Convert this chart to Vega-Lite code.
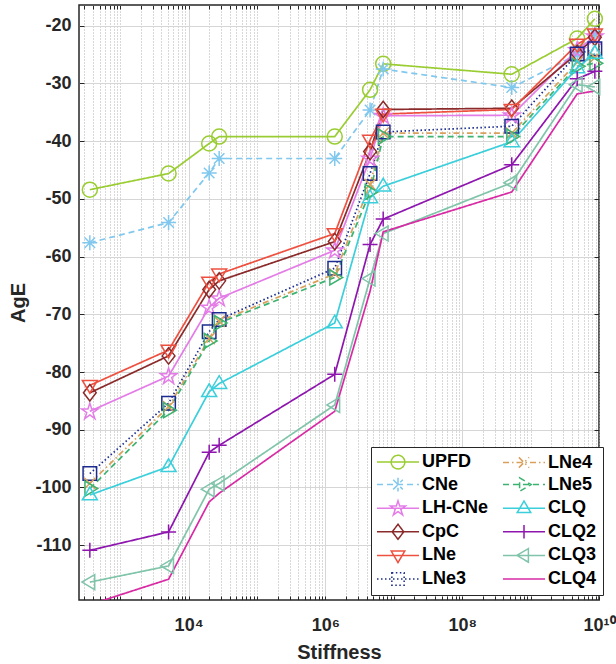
{
 "$schema": "https://vega.github.io/schema/vega-lite/v6.json",
 "width": 520,
 "height": 595,
 "padding": {"left": 8, "top": 4, "right": 0, "bottom": 0},
 "config": {"font": "Liberation Sans", "view": {"stroke": "#262626", "strokeWidth": 1.5}},
 "data": {"values": [
  {"s":"UPFD","x":360,"y":-48.4},{"s":"UPFD","x":5100,"y":-45.6},{"s":"UPFD","x":20000,"y":-40.4},{"s":"UPFD","x":28000,"y":-39.2},{"s":"UPFD","x":1370000,"y":-39.2},{"s":"UPFD","x":4500000,"y":-31.1},{"s":"UPFD","x":7000000,"y":-26.6},{"s":"UPFD","x":530000000,"y":-28.4},{"s":"UPFD","x":4800000000,"y":-22.2},{"s":"UPFD","x":8700000000,"y":-18.8},
  {"s":"CNe","x":360,"y":-57.6},{"s":"CNe","x":5100,"y":-54.1},{"s":"CNe","x":20000,"y":-45.5},{"s":"CNe","x":28000,"y":-43.0},{"s":"CNe","x":1370000,"y":-43.0},{"s":"CNe","x":4500000,"y":-34.6},{"s":"CNe","x":7000000,"y":-27.5},{"s":"CNe","x":530000000,"y":-30.7},{"s":"CNe","x":4800000000,"y":-25.0},{"s":"CNe","x":8700000000,"y":-21.5},
  {"s":"LH-CNe","x":360,"y":-86.8},{"s":"LH-CNe","x":5100,"y":-80.7},{"s":"LH-CNe","x":20000,"y":-68.8},{"s":"LH-CNe","x":28000,"y":-67.2},{"s":"LH-CNe","x":1370000,"y":-58.9},{"s":"LH-CNe","x":4500000,"y":-43.0},{"s":"LH-CNe","x":7000000,"y":-35.6},{"s":"LH-CNe","x":530000000,"y":-35.5},{"s":"LH-CNe","x":4800000000,"y":-24.2},{"s":"LH-CNe","x":8700000000,"y":-21.8},
  {"s":"CpC","x":360,"y":-83.6},{"s":"CpC","x":5100,"y":-77.2},{"s":"CpC","x":20000,"y":-65.7},{"s":"CpC","x":28000,"y":-64.2},{"s":"CpC","x":1370000,"y":-57.4},{"s":"CpC","x":4500000,"y":-41.8},{"s":"CpC","x":7000000,"y":-34.5},{"s":"CpC","x":530000000,"y":-34.3},{"s":"CpC","x":4800000000,"y":-24.8},{"s":"CpC","x":8700000000,"y":-22.0},
  {"s":"LNe","x":360,"y":-82.3},{"s":"LNe","x":5100,"y":-76.2},{"s":"LNe","x":20000,"y":-64.4},{"s":"LNe","x":28000,"y":-63.0},{"s":"LNe","x":1370000,"y":-56.0},{"s":"LNe","x":4500000,"y":-39.8},{"s":"LNe","x":7000000,"y":-35.3},{"s":"LNe","x":530000000,"y":-34.5},{"s":"LNe","x":4800000000,"y":-23.2},{"s":"LNe","x":8700000000,"y":-21.4},
  {"s":"LNe3","x":360,"y":-97.6},{"s":"LNe3","x":5100,"y":-85.4},{"s":"LNe3","x":20000,"y":-73.0},{"s":"LNe3","x":28000,"y":-70.9},{"s":"LNe3","x":1370000,"y":-62.0},{"s":"LNe3","x":4500000,"y":-45.6},{"s":"LNe3","x":7000000,"y":-38.4},{"s":"LNe3","x":530000000,"y":-37.4},{"s":"LNe3","x":4800000000,"y":-24.9},{"s":"LNe3","x":8700000000,"y":-24.0},
  {"s":"LNe4","x":360,"y":-99.3},{"s":"LNe4","x":5100,"y":-86.0},{"s":"LNe4","x":20000,"y":-74.2},{"s":"LNe4","x":28000,"y":-71.2},{"s":"LNe4","x":1370000,"y":-63.0},{"s":"LNe4","x":4500000,"y":-47.5},{"s":"LNe4","x":7000000,"y":-38.6},{"s":"LNe4","x":530000000,"y":-38.6},{"s":"LNe4","x":4800000000,"y":-26.3},{"s":"LNe4","x":8700000000,"y":-25.5},
  {"s":"LNe5","x":360,"y":-100.2},{"s":"LNe5","x":5100,"y":-86.6},{"s":"LNe5","x":20000,"y":-74.6},{"s":"LNe5","x":28000,"y":-71.5},{"s":"LNe5","x":1370000,"y":-63.6},{"s":"LNe5","x":4500000,"y":-48.8},{"s":"LNe5","x":7000000,"y":-39.2},{"s":"LNe5","x":530000000,"y":-39.2},{"s":"LNe5","x":4800000000,"y":-27.0},{"s":"LNe5","x":8700000000,"y":-26.5},
  {"s":"CLQ","x":360,"y":-101.3},{"s":"CLQ","x":5100,"y":-96.4},{"s":"CLQ","x":20000,"y":-83.4},{"s":"CLQ","x":28000,"y":-82.0},{"s":"CLQ","x":1370000,"y":-71.5},{"s":"CLQ","x":4500000,"y":-49.8},{"s":"CLQ","x":7000000,"y":-47.8},{"s":"CLQ","x":530000000,"y":-40.1},{"s":"CLQ","x":4800000000,"y":-27.3},{"s":"CLQ","x":8700000000,"y":-24.8},
  {"s":"CLQ2","x":360,"y":-110.9},{"s":"CLQ2","x":5100,"y":-107.7},{"s":"CLQ2","x":20000,"y":-93.9},{"s":"CLQ2","x":28000,"y":-92.7},{"s":"CLQ2","x":1370000,"y":-80.4},{"s":"CLQ2","x":4500000,"y":-57.9},{"s":"CLQ2","x":7000000,"y":-53.5},{"s":"CLQ2","x":530000000,"y":-44.1},{"s":"CLQ2","x":4800000000,"y":-29.2},{"s":"CLQ2","x":8700000000,"y":-27.9},
  {"s":"CLQ3","x":360,"y":-116.4},{"s":"CLQ3","x":5100,"y":-113.6},{"s":"CLQ3","x":20000,"y":-100.3},{"s":"CLQ3","x":28000,"y":-99.3},{"s":"CLQ3","x":1370000,"y":-85.7},{"s":"CLQ3","x":4500000,"y":-63.8},{"s":"CLQ3","x":7000000,"y":-56.0},{"s":"CLQ3","x":530000000,"y":-47.2},{"s":"CLQ3","x":4800000000,"y":-30.2},{"s":"CLQ3","x":8700000000,"y":-30.6},
  {"s":"CLQ4","x":360,"y":-120.3},{"s":"CLQ4","x":5100,"y":-115.9},{"s":"CLQ4","x":20000,"y":-102.5},{"s":"CLQ4","x":28000,"y":-101.0},{"s":"CLQ4","x":1370000,"y":-86.8},{"s":"CLQ4","x":4500000,"y":-66.0},{"s":"CLQ4","x":7000000,"y":-55.7},{"s":"CLQ4","x":530000000,"y":-48.8},{"s":"CLQ4","x":4800000000,"y":-31.8},{"s":"CLQ4","x":8700000000,"y":-31.3}
 ]},
 "encoding": {
  "color": {
   "field": "s", "type": "nominal",
   "scale": {
    "domain": ["UPFD","CNe","LH-CNe","CpC","LNe","LNe3","LNe4","LNe5","CLQ","CLQ2","CLQ3","CLQ4"],
    "range": ["#9ACD32","#80C8EE","#E47CE8","#8B2A2A","#EE5040","#1C2B8F","#D9A05B","#3CB371","#3ACFDB","#8E15AE","#80C4AA","#D82AA4"]
   },
   "legend": {
    "title": null,
    "orient": "none",
    "legendX": 292,
    "legendY": 442,
    "columns": 2,
    "direction": "vertical",
    "strokeColor": "#262626",
    "fillColor": "white",
    "padding": 6,
    "columnPadding": 12,
    "rowPadding": 2.6,
    "symbolSize": 256,
    "symbolStrokeWidth": 1.5,
    "labelOffset": 27,
    "labelFont": "Liberation Sans",
    "labelFontSize": 18,
    "labelFontWeight": "bold",
    "labelColor": "#000000",
    "labelLimit": 0,
    "encode": {
     "symbols": {
      "update": {
       "shape": {"signal": "{'UPFD':'M-1.125,0H4.125M0.65,0A0.85,0.85,0,1,0,2.35,0A0.85,0.85,0,1,0,0.65,0','CNe':'M-1.125,0H4.125M1.5,-0.85V0.85M0.9,-0.6L2.1,0.6M0.9,0.6L2.1,-0.6','LH-CNe':'M-1.125,0H4.125M1.5,-0.93L1.71,-0.26L2.43,-0.26L1.85,0.15L2.08,0.84L1.5,0.42L0.92,0.84L1.15,0.15L0.57,-0.26L1.29,-0.26Z','CpC':'M-1.125,0H4.125M1.5,-0.94L2.22,0L1.5,0.94L0.78,0Z','LNe':'M-1.125,0H4.125M0.65,-0.55L2.35,-0.55L1.5,0.9Z','LNe3':'M-1.125,0H4.125M0.73,-0.77H2.27V0.77H0.73Z','LNe4':'M-1.125,0H4.125M0.86,-0.64L2.14,0.64M0.86,0.64L2.14,-0.64','LNe5':'M-1.125,0H4.125M0.95,-0.85L2.4,0L0.95,0.85Z','CLQ':'M-1.125,0H4.125M0.65,0.55L2.35,0.55L1.5,-0.9Z','CLQ2':'M-1.125,0H4.125M1.5,-0.85V0.85','CLQ3':'M-1.125,0H4.125M2.05,-0.85L0.6,0L2.05,0.85Z','CLQ4':'M-1.125,0H4.125'}[datum.value]"},
       "fill": {"value": "transparent"},
       "opacity": {"value": 1},
       "size": {"value": 256},
       "strokeWidth": {"value": 1.5}
      }
     }
    }
   }
  }
 },
 "layer": [
  {
   "mark": {"type": "line", "strokeWidth": 1.7, "clip": true},
   "encoding": {
    "x": {
     "field": "x", "type": "quantitative",
     "scale": {"type": "log", "domain": [250, 10000000000], "nice": false},
     "axis": {
      "orient": "bottom",
      "title": "Stiffness",
      "titleFontSize": 20, "titleFontWeight": "bold", "titleColor": "#262626", "titlePadding": 8,
      "values": [300,400,500,600,700,800,900,1000,2000,3000,4000,5000,6000,7000,8000,9000,10000,20000,30000,40000,50000,60000,70000,80000,90000,100000,200000,300000,400000,500000,600000,700000,800000,900000,1000000,2000000,3000000,4000000,5000000,6000000,7000000,8000000,9000000,10000000,20000000,30000000,40000000,50000000,60000000,70000000,80000000,90000000,100000000,200000000,300000000,400000000,500000000,600000000,700000000,800000000,900000000,1000000000,2000000000,3000000000,4000000000,5000000000,6000000000,7000000000,8000000000,9000000000,10000000000],
      "labelExpr": "datum.value == 10000 ? '10⁴' : datum.value == 1000000 ? '10⁶' : datum.value == 100000000 ? '10⁸' : datum.value == 10000000000 ? '10¹⁰' : ''",
      "labelFontSize": 18, "labelFontWeight": "bold", "labelColor": "#262626",
      "labelFlush": false, "labelOverlap": false, "labelPadding": 20,
      "tickSize": -4, "tickColor": "#262626",
      "domain": false,
      "grid": true,
      "gridColor": {"condition": {"test": "datum.value == 10000 || datum.value == 1000000 || datum.value == 100000000", "value": "#d6d6d6"}, "value": "#b0b0b0"},
      "gridDash": {"condition": {"test": "datum.value == 10000 || datum.value == 1000000 || datum.value == 100000000", "value": []}, "value": [1, 2]}
     }
    },
    "y": {
     "field": "y", "type": "quantitative",
     "scale": {"domain": [-119.5, -16.4], "nice": false, "zero": false},
     "axis": {
      "orient": "left",
      "title": "AgE",
      "titleFontSize": 20, "titleFontWeight": "bold", "titleColor": "#262626", "titlePadding": 6,
      "values": [-110,-100,-90,-80,-70,-60,-50,-40,-30,-20],
      "labelExpr": "'' + datum.value",
      "labelFontSize": 18, "labelFontWeight": "bold", "labelColor": "#262626",
      "labelPadding": 13,
      "tickSize": -5, "tickColor": "#262626",
      "domain": false,
      "grid": true, "gridColor": "#d6d6d6"
     }
    },
    "strokeDash": {
     "field": "s", "type": "nominal",
     "scale": {
      "domain": ["UPFD","CNe","LH-CNe","CpC","LNe","LNe3","LNe4","LNe5","CLQ","CLQ2","CLQ3","CLQ4"],
      "range": [[1,0],[6,4],[1,0],[1,0],[1,0],[1.5,2.5],[6,3,1.5,3],[6,4],[1,0],[1,0],[1,0],[1,0]]
     }
    }
   }
  },
  {
   "transform": [{"calculate": "datum.s", "as": "m"}],
   "mark": {"type": "point", "filled": false, "strokeWidth": 1.5, "size": 225, "opacity": 1},
   "encoding": {
    "x": {
     "field": "x", "type": "quantitative",
     "scale": {"type": "log", "domain": [250, 10000000000], "nice": false},
     "axis": {
      "orient": "top", "title": null, "labels": false, "domain": false, "grid": false,
      "values": [300,400,500,600,700,800,900,1000,2000,3000,4000,5000,6000,7000,8000,9000,10000,20000,30000,40000,50000,60000,70000,80000,90000,100000,200000,300000,400000,500000,600000,700000,800000,900000,1000000,2000000,3000000,4000000,5000000,6000000,7000000,8000000,9000000,10000000,20000000,30000000,40000000,50000000,60000000,70000000,80000000,90000000,100000000,200000000,300000000,400000000,500000000,600000000,700000000,800000000,900000000,1000000000,2000000000,3000000000,4000000000,5000000000,6000000000,7000000000,8000000000,9000000000,10000000000],
      "tickSize": -4, "tickColor": "#262626"
     }
    },
    "y": {
     "field": "y", "type": "quantitative",
     "scale": {"domain": [-119.5, -16.4], "nice": false, "zero": false},
     "axis": {
      "orient": "right", "title": null, "labels": false, "domain": false, "grid": false,
      "values": [-110,-100,-90,-80,-70,-60,-50,-40,-30,-20],
      "tickSize": -5, "tickColor": "#262626"
     }
    },
    "shape": {
     "field": "m", "type": "nominal",
     "legend": null,
     "scale": {
      "domain": ["CLQ4","CLQ3","CLQ2","CLQ","LNe5","LNe4","LNe3","LNe","CpC","LH-CNe","CNe","UPFD"],
      "range": [
       "M0,0",
       "M0.65,-1L-1.05,0L0.65,1Z",
       "M0,-1V1M-1,0H1",
       "M-1,0.65L1,0.65L0,-1.05Z",
       "M-0.65,-1L1.05,0L-0.65,1Z",
       "M-0.75,-0.75L0.75,0.75M-0.75,0.75L0.75,-0.75",
       "M-0.9,-0.9H0.9V0.9H-0.9Z",
       "M-1,-0.65L1,-0.65L0,1.05Z",
       "M0,-1.1L0.85,0L0,1.1L-0.85,0Z",
       "M0,-1.09L0.25,-0.3L1.09,-0.3L0.41,0.18L0.68,0.99L0,0.49L-0.68,0.99L-0.41,0.18L-1.09,-0.3L-0.25,-0.3Z",
       "M0,-1V1M-1,0H1M-0.7,-0.7L0.7,0.7M-0.7,0.7L0.7,-0.7",
       "circle"
      ]
     }
    }
   }
  }
 ],
 "resolve": {"axis": {"x": "independent", "y": "independent"}}
}
